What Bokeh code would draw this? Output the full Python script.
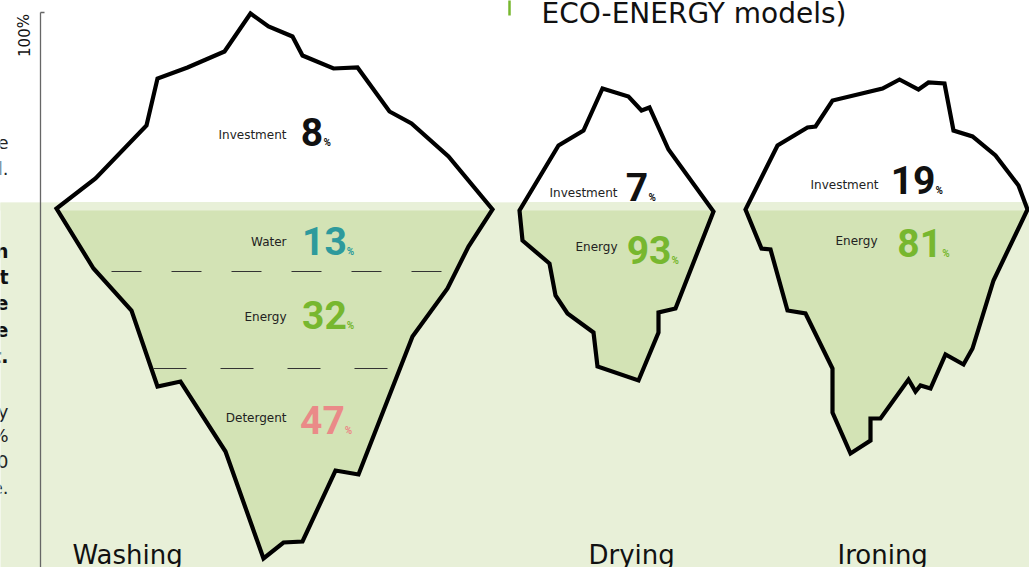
from bokeh.plotting import figure
from bokeh.models import Range1d
from bokeh.core.properties import value
from bokeh.embed import file_html
from bokeh.resources import INLINE

# ---------------- data ----------------
categories = ["Washing", "Drying", "Ironing"]
investment_pct = [8, 7, 19]
washing_parts = ["Water", "Energy", "Detergent"]
washing_pct = [13, 32, 47]
drying_parts = ["Energy"]
drying_pct = [93]
ironing_parts = ["Energy"]
ironing_pct = [81]
header_text = "ECO-ENERGY models)"
axis_label = "100%"
# fragments of the cut-off side paragraph at the left edge
side_light_1 = ["e", "l."]
side_bold = ["n", "t", "e", "e", "t."]
side_light_2 = ["y", "%", "0", "e."]

# ---------------- iceberg outlines (shape, reference-pixel space) ----------------
washing_x = [250, 268, 292, 302, 333, 357, 389, 411, 448, 492, 468, 447, 412, 358, 335, 302, 283,
             263, 225, 180, 157, 131, 93, 56, 95, 146, 157, 187, 224]
washing_y = [13, 26, 36, 55, 68, 67, 111, 123, 156, 209, 246, 288, 336, 474, 470, 541, 542,
             558, 451, 381, 386, 310, 268, 208, 178, 125, 78, 67, 51]
drying_x = [602, 628, 641, 649, 668, 713, 675, 658, 658, 638, 597, 593, 567, 555, 549, 522, 519, 558, 583]
drying_y = [88, 96, 110, 107, 149, 211, 308, 312, 332, 380, 366, 332, 313, 295, 263, 240, 210, 145, 130]
ironing_x = [899, 918, 928, 944, 953, 972, 995, 1018, 1027, 993, 972, 963, 945, 930, 920, 915, 908,
             880, 870, 870, 850, 832, 832, 805, 787, 770, 761, 745, 777, 807, 815, 832, 882]
ironing_y = [79, 89, 82, 83, 130, 136, 155, 185, 209, 280, 348, 364, 354, 388, 385, 391, 379,
             418, 418, 440, 453, 412, 368, 313, 310, 249, 248, 209, 145, 127, 126, 100, 88]

# ---------------- layout / style ----------------
W_REF, H_REF = 1029, 567
WATERLINE = 202
ICE_FILL_TOP = 210
WHITE = "#ffffff"
SEA = "#e8f0d8"
ICE_UNDER = "#d3e3b5"
TEAL = "#2e9a9c"
GREEN = "#77b72f"
PINK = "#ea8a88"
DARK = "#111111"
LABEL_COLOR = "#222222"
K_DEJAVU = 0.32   # empirical baseline correction (fraction of font size)
K_ROBOTO = 0.36

p = figure(width=W_REF, height=H_REF, x_range=Range1d(0, W_REF), y_range=Range1d(H_REF, 0),
           output_backend="svg", toolbar_location=None, min_border=0,
           x_axis_location=None, y_axis_location=None)
p.grid.visible = False
p.outline_line_color = None
p.background_fill_color = WHITE
p.border_fill_color = WHITE

L, R = -20, W_REF + 20
# sea background
p.quad(left=[L], right=[R], top=[WATERLINE], bottom=[H_REF + 20], fill_color=SEA, line_color=None)

xs = [washing_x, drying_x, ironing_x]
ys = [washing_y, drying_y, ironing_y]
p.patches(xs=xs, ys=ys, fill_color=ICE_UNDER, line_color=None)
# above water: white; thin light band at the waterline
p.quad(left=[L], right=[R], top=[-20], bottom=[WATERLINE], fill_color=WHITE, line_color=None)
p.quad(left=[L], right=[R], top=[WATERLINE], bottom=[ICE_FILL_TOP], fill_color=SEA, line_color=None)

# outlines
p.patches(xs=xs, ys=ys, fill_alpha=0, line_color="#000000", line_width=4.2, line_join="miter")

# dashed separators in Washing iceberg
p.line([111, 441], [271, 271], line_color="#333333", line_width=1.2, line_dash="30 30")
p.line([153, 388], [368, 368], line_color="#333333", line_width=1.2, line_dash="33 34")

# axis line
p.line([40, 40], [12, 600], line_color="#666666", line_width=1.3)
p.line([40, 44], [12, 12], line_color="#666666", line_width=1.3)
p.text(x=[24], y=[35], text=[axis_label], angle=1.5708, text_font=value("DejaVu Sans"),
       text_font_size="15px", text_align="center", text_baseline="middle", text_color="#111111")


def dv(base, size):
    return [b - K_DEJAVU * size for b in base]


# left-edge fragments of the side text
p.text(x=[8] * 2, y=dv([148, 174], 18), text=side_light_1, text_font=value("DejaVu Sans"),
       text_font_size="18px", text_align="right", text_baseline="alphabetic", text_color="#222222")
p.text(x=[8] * 5, y=dv([257, 283, 309, 336, 362], 19), text=side_bold, text_font=value("DejaVu Sans"),
       text_font_style="bold", text_font_size="19px", text_align="right", text_baseline="alphabetic",
       text_color="#111111")
p.text(x=[8] * 4, y=dv([417, 441, 467, 493], 18), text=side_light_2, text_font=value("DejaVu Sans"),
       text_font_size="18px", text_align="right", text_baseline="alphabetic", text_color="#222222")

# header fragment
p.line([509, 509], [-5, 15], line_color=GREEN, line_width=2.5)
p.text(x=[541], y=dv([22], 28), text=[header_text], text_font=value("DejaVu Sans"), text_font_size="28px",
       text_align="left", text_baseline="alphabetic", text_color="#111111")

# category names
cat_x = [72, 588, 837]
cat_base = [563, 563, 563]
p.text(x=cat_x, y=dv(cat_base, 26), text=categories, text_font=value("DejaVu Sans"), text_font_size="26px",
       text_align="left", text_baseline="alphabetic", text_color="#111111")

# segment labels and values
labels = (["Investment"] + washing_parts + ["Investment"] + drying_parts + ["Investment"] + ironing_parts)
values = ([investment_pct[0]] + washing_pct + [investment_pct[1]] + drying_pct + [investment_pct[2]] + ironing_pct)
colors = [DARK, TEAL, GREEN, PINK, DARK, GREEN, DARK, GREEN]
label_right = [286, 286, 286, 286, 617, 617, 878, 877]
label_mid = [134.5, 241.6, 316.8, 417.7, 192.3, 246.7, 184.3, 240]
num_left = [301.7, 303, 303, 301, 626.7, 627.7, 891.7, 898.3]
num_base = [145.4, 254.2, 328.4, 433.3, 201, 263.3, 193.3, 256.7]

NUM_SIZE = 39
PCT_SIZE = 10
DIGIT_W = 0.562 * NUM_SIZE
num_x = [v - 1.5 for v in num_left]
num_txt = [str(v) for v in values]
num_y = [b - K_ROBOTO * NUM_SIZE for b in num_base]
pct_x = [x + len(t) * DIGIT_W + 1 for x, t in zip(num_x, num_txt)]
pct_y = [b - K_ROBOTO * PCT_SIZE for b in num_base]

p.text(x=label_right, y=label_mid, text=labels, text_font=value("DejaVu Sans"), text_font_size="12px",
       text_align="right", text_baseline="middle", text_color=LABEL_COLOR)
p.text(x=num_x, y=num_y, text=num_txt, text_font=value("Roboto"), text_font_style="bold",
       text_font_size=f"{NUM_SIZE}px", text_align="left", text_baseline="alphabetic", text_color=colors)
p.text(x=pct_x, y=pct_y, text=["%"] * len(values), text_font=value("Roboto"), text_font_style="bold",
       text_font_size=f"{PCT_SIZE}px", text_align="left", text_baseline="alphabetic", text_color=colors)

open("out.html", "w").write(file_html(p, INLINE))
